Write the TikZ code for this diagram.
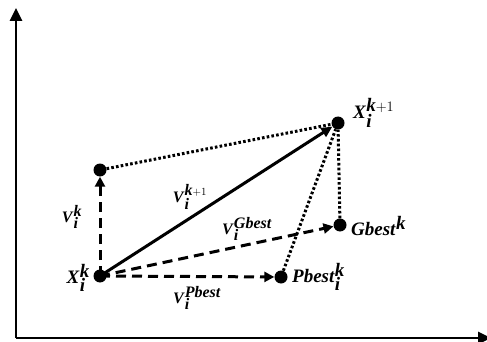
\documentclass[tikz,border=0pt]{standalone}
\usepackage{fontspec}
\setmainfont{Liberation Serif}
\usetikzlibrary{arrows.meta}
\tikzset{
  pt/.style={circle,fill=black,inner sep=0pt,minimum size=13pt},
  lbl/.style={inner sep=1pt,font=\fontsize{19}{21}\selectfont\bfseries},
  slbl/.style={inner sep=1pt,font=\fontsize{16}{18}\selectfont\bfseries},
  dsh/.style={line width=3pt,dash pattern=on 10pt off 6pt,-{Triangle[length=10pt,width=10pt]}},
  dot/.style={line width=3pt,dash pattern=on 2.6pt off 2.2pt},
  sol/.style={line width=3pt,-{Triangle[length=11pt,width=10pt]}},
  ax/.style={line width=2.6pt,-{Triangle[length=13pt,width=12pt]}}
}
\begin{document}
\begin{tikzpicture}[x=1pt,y=-1pt]
\useasboundingbox (0,0) rectangle (487,342);
\coordinate (o) at (16,338);
\coordinate (yt) at (16,8);
\coordinate (xr) at (491,338);
\draw[ax] (o) -- (yt);
\draw[ax] (o) -- (xr);
\node[pt] (xk) at (100,276) {};
\node[pt] (vk) at (100,170) {};
\node[pt] (xk1) at (338,123) {};
\node[pt] (gb) at (340,225) {};
\node[pt] (pb) at (281,277) {};
\draw[dot] (vk) -- (xk1);
\draw[dot] (pb) -- (xk1);
\draw[dot] (gb) -- (xk1);
\draw[dsh] (xk.center) -- (vk);
\draw[dsh] (xk.center) -- (gb);
\draw[dsh] (xk.center) -- (pb);
\draw[sol] (xk.center) -- (xk1);
\node[lbl,anchor=east] (lxk) at (91,278) {\textit{X}$_{\textit{i}}^{\textit{k}}$};
\node[lbl,anchor=west] (lxk1) at (352,113) {\textit{X}$_{\textit{i}}^{\textit{k}+1}$};
\node[lbl,anchor=west] (lgb) at (350,226) {\textit{Gbest}$^{\textit{k}}$};
\node[lbl,anchor=west] (lpb) at (291,277) {\textit{Pbest}$_{\textit{i}}^{\textit{k}}$};
\node[slbl] (lvk) at (72,217) {\textit{V}$_{\textit{i}}^{\textit{k}}$};
\node[slbl] (lvk1) at (190,197) {\textit{V}$_{\textit{i}}^{\textit{k}+1}$};
\node[slbl] (lvg) at (247,229) {\textit{V}$_{\textit{i}}^{\textit{Gbest}}$};
\node[slbl] (lvp) at (197,298) {\textit{V}$_{\textit{i}}^{\textit{Pbest}}$};
\end{tikzpicture}
\end{document}
